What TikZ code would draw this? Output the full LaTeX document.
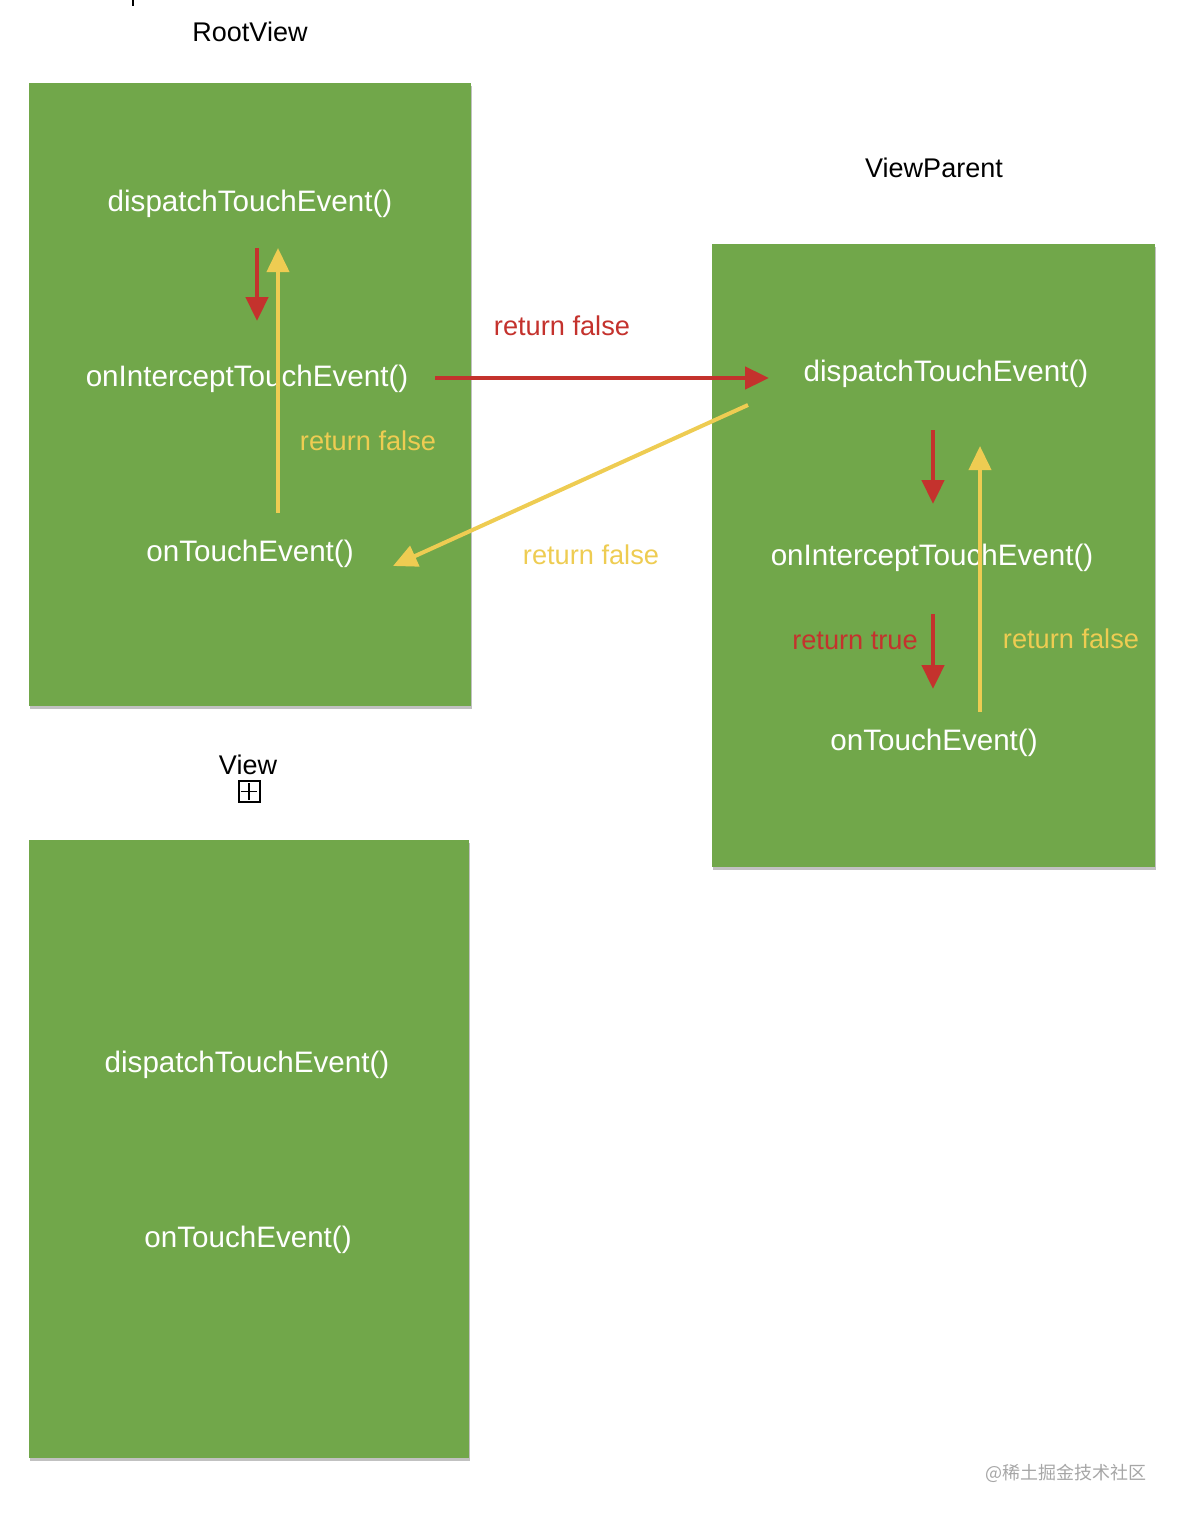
\documentclass[tikz,border=0pt]{standalone}
\usepackage{fontspec}
\setmainfont{Liberation Sans}
\newfontfamily\cjkfont{Noto Sans CJK SC}
\usetikzlibrary{arrows.meta,shadows}
\definecolor{grass}{RGB}{113,167,74}
\definecolor{callred}{RGB}{196,50,45}
\definecolor{backyellow}{RGB}{238,204,82}
\begin{document}
\begin{tikzpicture}[x=0.5pt,y=-0.5pt,
  panel/.style={fill=grass,drop shadow={shadow xshift=0.5pt,shadow yshift=-1.4pt,opacity=0.35,fill=black!70}},
  method/.style={text=white,yshift=-1.5pt,font=\fontsize{14.8}{17}\selectfont},
  title/.style={text=black,font=\fontsize{13.5}{16}\selectfont},
  redlbl/.style={text=callred,font=\fontsize{13.6}{16}\selectfont},
  ylwlbl/.style={text=backyellow,font=\fontsize{13.6}{16}\selectfont},
  callarr/.style={draw=callred,line width=2.3pt,-{Triangle[width=11pt,length=12pt]}},
  backarr/.style={draw=backyellow,line width=2pt,-{Triangle[width=11pt,length=12pt]}}]
\useasboundingbox (0,0) rectangle (1182,1520);
\draw[line width=1pt] (133,0) -- (133,6);

% panels
\path[panel] (29,83) rectangle (471,706);
\path[panel] (712,244) rectangle (1155,867);
\path[panel] (29,840) rectangle (469,1458);

% titles
\node[title] (rootview) at (250,32) {RootView};
\node[title] (viewparent) at (934,168) {ViewParent};
\node[title] (view) at (248,765) {View};
\node[draw,line width=1pt,minimum size=10.5pt,inner sep=0pt] (viewicon) at (249,791.5) {};
\draw[line width=0.9pt,shorten <=1.6pt,shorten >=1.6pt] (viewicon.north) -- (viewicon.south);
\draw[line width=0.9pt,shorten <=1.6pt,shorten >=1.6pt] (viewicon.west) -- (viewicon.east);

% RootView
\node[method] (rdispatch) at (250,201) {dispatchTouchEvent()};
\node[method] (rintercept) at (247,376) {onInterceptTouchEvent()};
\node[method] (rtouch) at (250,551) {onTouchEvent()};
\node[ylwlbl] (rback) at (368,441) {return false};

% ViewParent
\node[method] (pdispatch) at (946,371) {dispatchTouchEvent()};
\node[method] (pintercept) at (932,555) {onInterceptTouchEvent()};
\node[method] (ptouch) at (934,740) {onTouchEvent()};
\node[redlbl] (ptrue) at (855,641) {return true};
\node[ylwlbl] (pback) at (1071,639) {return false};

% View
\node[method] (vdispatch) at (247,1062) {dispatchTouchEvent()};
\node[method] (vtouch) at (248,1237) {onTouchEvent()};

% between
\node[redlbl] (passdown) at (562,326) {return false};
\node[ylwlbl] (passback) at (591,555) {return false};

% arrow ends
\coordinate (r1) at (257,248);
\coordinate (r2) at (257,321);
\coordinate (r3) at (278,513);
\coordinate (r4) at (278,248);
\coordinate (h1) at (435,378);
\coordinate (h2) at (769,378);
\coordinate (d1) at (748,405);
\coordinate (d2) at (393,566);
\coordinate (p1) at (933,430);
\coordinate (p2) at (933,504);
\coordinate (p3) at (980,712);
\coordinate (p4) at (980,446);
\coordinate (p5) at (933,614);
\coordinate (p6) at (933,689);

\draw[callarr] (r1) -- (r2);
\draw[backarr] (r3) -- (r4);
\draw[callarr] (h1) -- (h2);
\draw[backarr] (d1) -- (d2);
\draw[callarr] (p1) -- (p2);
\draw[backarr] (p3) -- (p4);
\draw[callarr] (p5) -- (p6);

\node[text=black!35,font=\cjkfont\fontsize{9}{11}\selectfont] (mark) at (1066,1473) {@稀土掘金技术社区};
\end{tikzpicture}
\end{document}
